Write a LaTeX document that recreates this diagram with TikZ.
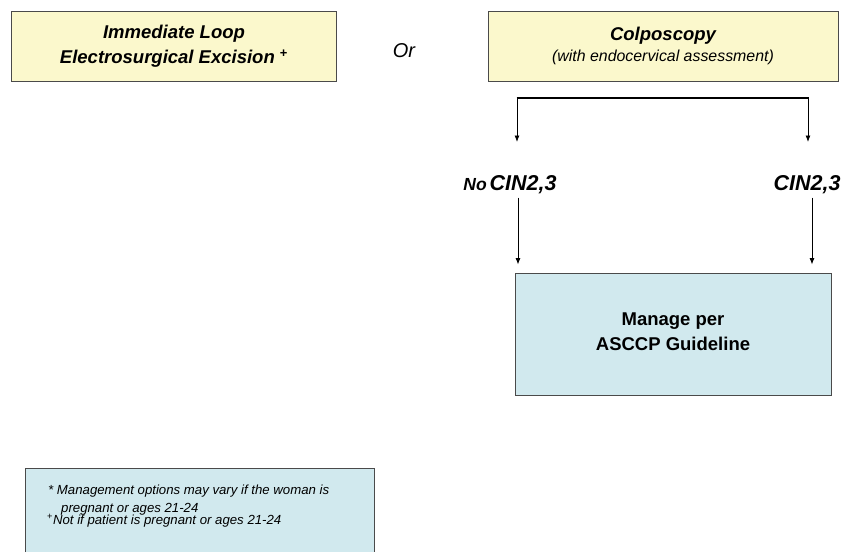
\documentclass[tikz,border=0pt]{standalone}
\usepackage{fontspec}
\setmainfont{Liberation Sans}
\usetikzlibrary{arrows.meta}
\definecolor{boxyellow}{HTML}{FBF8CC}
\definecolor{boxblue}{HTML}{D1E9EE}
\definecolor{boxline}{HTML}{4A4A4A}
\begin{document}
\begin{tikzpicture}[x=1pt,y=-1pt,
  ybox/.style={draw=boxline,line width=0.9pt,fill=boxyellow,inner sep=0pt,align=center},
  bbox/.style={draw=boxline,line width=0.9pt,fill=boxblue,inner sep=0pt,align=center},
  arr/.style={-{Latex[length=6.5pt,width=5pt]},line width=0.8pt},
  lbl/.style={anchor=base,inner sep=2pt},
  notetxt/.style={anchor=base west,inner sep=0pt,font=\itshape\fontsize{13.2}{15}\selectfont}]
 \useasboundingbox (0,0) rectangle (841,552);
 % top row
 \node[ybox,minimum width=325pt,minimum height=70pt,
   font=\bfseries\itshape\fontsize{18.5}{25}\selectfont] (leep) at (174,46)
   {Immediate Loop\\Electrosurgical Excision \textsuperscript{\upshape +}};
 \node[anchor=base,inner sep=0pt,font=\itshape\fontsize{20}{22}\selectfont] (or) at (404,57) {Or};
 \node[ybox,minimum width=350pt,minimum height=70pt,
   font=\bfseries\itshape\fontsize{18.5}{21}\selectfont] (colpo) at (663,46)
   {Colposcopy\\{\mdseries\fontsize{15.9}{21}\selectfont (with endocervical assessment)}};
 % split
 \coordinate (sl) at (517,98);
 \coordinate (sr) at (808,98);
 \coordinate (tl) at (517,142);
 \coordinate (tr) at (808,142);
 \draw[line width=1.8pt] ([xshift=-0.5pt]sl) -- ([xshift=0.5pt]sr);
 \draw[arr] (sl) -- (tl);
 \draw[arr] (sr) -- (tr);
 % results
 \node[lbl,font=\bfseries\itshape] (nocin) at (510,190)
   {{\fontsize{17.5}{20}\selectfont No} {\fontsize{21.5}{22}\selectfont CIN2,3}};
 \node[lbl,font=\bfseries\itshape\fontsize{21.5}{22}\selectfont] (cin) at (807,190) {CIN2,3};
 \node[bbox,minimum width=316pt,minimum height=122pt,
   font=\bfseries\fontsize{18.5}{25}\selectfont] (manage) at (673,334)
   {Manage per\\ASCCP Guideline\vphantom{g}};
 \draw[arr] ([yshift=-2pt]nocin.south -| 518,0) -- ([yshift=8pt]manage.north -| 518,0);
 \draw[arr] ([yshift=-2pt]cin.south -| 812,0) -- ([yshift=8pt]manage.north -| 812,0);
 % note
 \fill[boxblue] (25,468) rectangle (374,552);
 \draw[boxline,line width=0.9pt] (25,552) -- (25,468) -- (374,468) -- (374,552);
 \node[notetxt] (note1) at (48,494) {* Management options may vary if the woman is};
 \node[notetxt] (note2) at (61,512) {pregnant or ages 21-24};
 \node[notetxt] (note3) at (47,524) {\textsuperscript{\upshape +}Not if patient is pregnant or ages 21-24};
\end{tikzpicture}
\end{document}
